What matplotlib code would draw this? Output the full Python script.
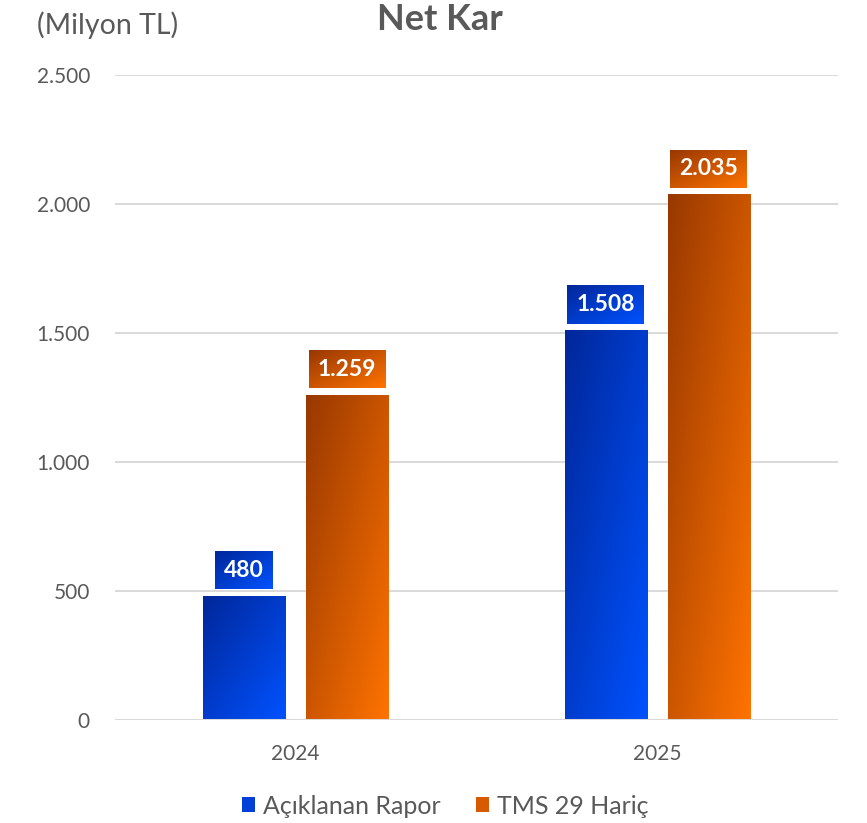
import numpy as np
import matplotlib
matplotlib.use("Agg")
import matplotlib.pyplot as plt
from matplotlib.patches import Patch
from matplotlib.colors import to_rgb

plt.rcParams['font.family'] = ['Lato', 'DejaVu Sans']

categories = ["2024", "2025"]
series_names = ["Açıklanan Rapor", "TMS 29 Hariç"]
reported = [480, 1508]
excl_tms29 = [1259, 2035]
yticks = [0, 500, 1000, 1500, 2000, 2500]
ytick_labels = ["0", "500", "1.000", "1.500", "2.000", "2.500"]

grad_colors = [("#00279a", "#0052ff"), ("#983800", "#ff7300")]
mid_colors = ["#0040d8", "#d85a00"]
TXT = "#595959"

W, H = 867, 823
fig = plt.figure(figsize=(W / 100, H / 100), dpi=100)
ax = fig.add_axes([115 / W, (H - 720) / H, 723 / W, 645 / H])
ax.set_xlim(-0.5, 1.5)
ax.set_ylim(0, 2500)

def gradient_img(c0, c1, n=64):
    u = np.linspace(0, 1, n)
    v = np.linspace(0, 1, n)
    U, V = np.meshgrid(u, v)
    t = (U + V) / 2.0
    a, b = np.array(to_rgb(c0)), np.array(to_rgb(c1))
    return a[None, None, :] * (1 - t[..., None]) + b[None, None, :] * t[..., None]

x = np.arange(len(categories))
width = 0.227
offsets = [-0.143, 0.142]
all_bars = []
for i, vals in enumerate([reported, excl_tms29]):
    bars = ax.bar(x + offsets[i], vals, width, color="none", edgecolor="none", zorder=3)
    img = gradient_img(*grad_colors[i])
    for b in bars:
        x0, w, h = b.get_x(), b.get_width(), b.get_height()
        ax.imshow(img, extent=(x0, x0 + w, 0, h), origin="upper", aspect="auto",
                  zorder=3, interpolation="bilinear")
        all_bars.append((b, i))

ax.set_xlim(-0.5, 1.5)
ax.set_ylim(0, 2500)
ax.set_yticks(yticks)
ax.set_yticklabels(ytick_labels)
ax.set_xticks(x)
ax.set_xticklabels(categories)
ax.tick_params(axis="y", length=0, pad=18, labelsize=15, labelcolor=TXT)
ax.tick_params(axis="x", length=0, pad=17, labelsize=15, labelcolor=TXT)
for s in ax.spines.values():
    s.set_visible(False)
ax.grid(axis="y", color="#d9d9d9", linewidth=1.4, zorder=0)
ax.set_axisbelow(True)
ax.axhline(0, color="#d9d9d9", linewidth=2.2, zorder=4)

texts = []
for b, i in all_bars:
    val = b.get_height()
    cx = b.get_x() + b.get_width() / 2
    t = ax.annotate(f"{int(val):,}".replace(",", "."), xy=(cx, val), xytext=(0, 26),
                    textcoords="offset pixels", ha="center", va="center",
                    color="white", fontsize=16.5, fontweight="bold", zorder=6)
    texts.append((t, b, i))

fig.canvas.draw()
r = fig.canvas.get_renderer()
inv = ax.transData.inverted()
for t, b, i in texts:
    bb = t.get_window_extent(r)
    top_disp = ax.transData.transform((0, b.get_height()))[1]
    x0d, x1d = bb.x0 - 9, bb.x1 + 9
    y0d, y1d = top_disp + 7, top_disp + 45
    (dx0, dy0) = inv.transform((x0d, y0d))
    (dx1, dy1) = inv.transform((x1d, y1d))
    ax.imshow(gradient_img(*grad_colors[i]), extent=(dx0, dx1, dy0, dy1), origin="upper",
              aspect="auto", zorder=5, interpolation="bilinear", clip_on=False)

ax.set_xlim(-0.5, 1.5)
ax.set_ylim(0, 2500)

fig.text(37 / W, 1 - 25 / H, "(Milyon TL)", ha="left", va="center", fontsize=20.5, color=TXT)
fig.text(440 / W, 1 - 20 / H, "Net Kar", ha="center", va="center", fontsize=26,
         fontweight="bold", color=TXT)

handles = [Patch(facecolor=mid_colors[0]), Patch(facecolor=mid_colors[1])]
fig.legend(handles, series_names, loc="center", bbox_to_anchor=(445 / W, 1 - 806 / H),
           ncol=2, frameon=False, fontsize=18, labelcolor=TXT, handlelength=0.55,
           handleheight=0.55, handletextpad=0.3, columnspacing=1.4)

fig.savefig("out.png", dpi=100)
